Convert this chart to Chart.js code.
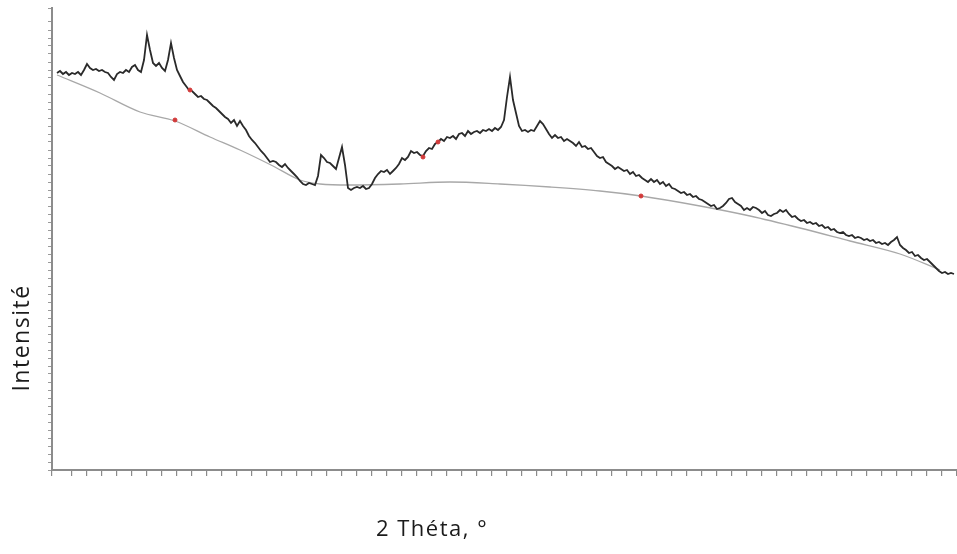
<!DOCTYPE html>
<html lang="fr">
<head>
<meta charset="utf-8">
<title>Diffractogramme</title>
<script src="https://cdn.jsdelivr.net/npm/chart.js@4.4.1/dist/chart.umd.min.js"></script>
<style>
  html, body { margin: 0; padding: 0; background: #ffffff; }
  #wrap { width: 957px; height: 554px; }
</style>
</head>
<body>
<div id="wrap"><canvas id="xrd" width="957" height="554"></canvas></div>
<script>
// Scan settings (2θ, degrees)
const scanStart = 4.5;
const scanStep = 0.3;

// Measured intensity, one value per scan step
const counts = [
  794,798,792,796,790,794,792,796,790,800,
  812,804,800,802,798,800,796,794,786,780,
  792,796,794,800,796,806,810,800,796,820,
  870,840,814,808,814,804,798,820,854,824,
  800,788,776,768,760,758,752,746,748,742,
  740,734,728,724,718,712,706,702,694,700,
  688,698,688,680,668,660,654,646,638,632,
  624,616,618,616,610,606,612,604,598,592,
  586,578,572,570,574,572,570,588,630,624,
  616,614,608,602,624,646,610,564,560,564,
  566,564,568,562,564,572,584,592,598,596,
  600,592,598,604,612,624,620,626,638,634,
  636,630,628,638,644,642,652,656,662,658,
  666,664,668,662,672,674,668,678,672,676,
  678,674,680,678,682,678,684,680,686,700,
  746,786,740,714,688,678,680,676,680,678,
  688,698,692,682,672,664,670,664,666,658,
  662,658,654,648,656,646,648,642,644,636,
  628,624,626,616,612,608,602,606,602,598,
  600,592,596,588,590,584,580,576,582,576,
  580,572,576,568,572,564,562,558,554,556,
  550,552,546,548,542,540,536,532,528,530,
  522,524,528,534,542,544,536,532,528,520,
  524,520,526,524,520,514,518,510,508,512,
  514,520,516,520,512,506,508,502,498,500,
  494,496,492,494,488,490,484,486,480,482,
  476,474,476,470,468,470,464,466,464,460,
  462,458,460,454,456,452,454,450,456,460,
  466,450,444,440,434,436,428,430,424,420,
  422,416,410,404,398,394,396,392,394,392
];

// Fitted background (amorphous hump), anchor points
const bgTheta  = [4.5, 8.8, 12.8, 16.3, 19.8, 22.8, 26.1, 28.8, 30.8, 33.8, 38.8, 43.8, 48.8, 53.8, 58.8, 62.9, 68.8, 73.8, 78.8, 83.8, 88.8, 92.8];
const bgCounts = [790, 754, 716, 698, 666, 640, 608, 580, 572, 570, 572, 576, 572, 566, 558, 548, 528, 508, 484, 458, 432, 400];

// Marked positions
const markTheta  = [17.8, 16.3, 41.1, 42.6, 62.9];
const markCounts = [760, 700, 626, 656, 548];

// Axis ranges and labels
const thetaMin = 4, thetaMax = 94.5;
const countsMin = 0, countsMax = 924;
const xTitle = '2 Théta, °';
const yTitle = 'Intensité';

const scanPoints = counts.map((c, i) => ({ x: +(scanStart + i * scanStep).toFixed(2), y: c }));
const bgPoints = bgTheta.map((t, i) => ({ x: t, y: bgCounts[i] }));
const markPoints = markTheta.map((t, i) => ({ x: t, y: markCounts[i] }));

// Axis titles placed beside the plot
const axisTitles = {
  id: 'axisTitles',
  afterDraw(chart) {
    const ctx = chart.ctx;
    ctx.save();
    ctx.fillStyle = '#1b1b1b';
    ctx.textAlign = 'center';
    ctx.textBaseline = 'middle';
    ctx.font = '22px "Open Sans", sans-serif';
    ctx.letterSpacing = '1.5px';
    ctx.fillText(xTitle, 432, 530);
    ctx.font = '23px "Open Sans", sans-serif';
    ctx.letterSpacing = '1.5px';
    ctx.translate(22, 338);
    ctx.rotate(-Math.PI / 2);
    ctx.fillText(yTitle, 0, 0);
    ctx.restore();
  }
};

new Chart(document.getElementById('xrd'), {
  type: 'scatter',
  data: {
    datasets: [
      {
        label: 'mesure',
        data: scanPoints,
        showLine: true,
        borderColor: '#2a2a2a',
        borderWidth: 1.8,
        pointRadius: 0,
        tension: 0,
        order: 1
      },
      {
        label: 'fond',
        data: bgPoints,
        showLine: true,
        borderColor: '#a8a8a8',
        borderWidth: 1.3,
        pointRadius: 0,
        cubicInterpolationMode: 'monotone',
        order: 2
      },
      {
        label: 'repères',
        data: markPoints,
        showLine: false,
        pointRadius: 2,
        pointBackgroundColor: '#d23a3a',
        pointBorderColor: '#d23a3a',
        order: 0
      }
    ]
  },
  options: {
    responsive: false,
    animation: false,
    devicePixelRatio: 1,
    layout: { autoPadding: false, padding: { left: 48, right: 0, top: 8, bottom: 78 } },
    plugins: {
      legend: { display: false },
      tooltip: { enabled: false }
    },
    scales: {
      x: {
        type: 'linear',
        min: thetaMin,
        max: thetaMax,
        ticks: { display: false, stepSize: 1.5 },
        grid: { drawOnChartArea: false, drawTicks: true, tickLength: 6, color: '#8a8a8a', lineWidth: 1.2 },
        border: { display: true, color: '#8c8c8c', width: 2 }
      },
      y: {
        type: 'linear',
        min: countsMin,
        max: countsMax,
        ticks: { display: false, stepSize: 16 },
        grid: { drawOnChartArea: false, drawTicks: true, tickLength: 4, color: '#9a9a9a', lineWidth: 1 },
        border: { display: true, color: '#8c8c8c', width: 2 }
      }
    }
  },
  plugins: [axisTitles]
});
</script>
</body>
</html>
